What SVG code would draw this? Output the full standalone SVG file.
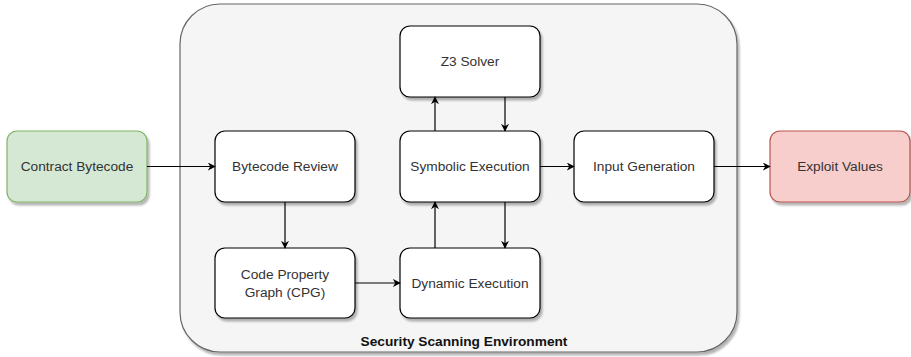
<svg xmlns="http://www.w3.org/2000/svg" width="911" height="357" viewBox="0 0 911 357">
  <style>
    .box { fill: #ffffff; stroke: #000000; stroke-width: 1.2; }
    .green { fill: #d5e8d4; stroke: #82b366; }
    .red { fill: #f8cecc; stroke: #b85450; }
    .env { fill: #f5f5f5; stroke: #666666; stroke-width: 1.2; }
    .lbl { font-family: "Liberation Sans", Arial, sans-serif; font-size: 13.7px; fill: #333333; text-anchor: middle; dominant-baseline: central; }
    .title { font-weight: bold; fill: #111111; }
    .edge { fill: none; stroke: #000000; stroke-width: 1.2; }
  </style>
  <defs>
    <filter id="shadow" x="-10%" y="-10%" width="130%" height="140%">
      <feGaussianBlur in="SourceAlpha" stdDeviation="1"/>
      <feOffset dx="2" dy="3" result="off"/>
      <feComponentTransfer><feFuncA type="linear" slope="0.3"/></feComponentTransfer>
      <feMerge><feMergeNode/><feMergeNode in="SourceGraphic"/></feMerge>
    </filter>
    <marker id="arrow" viewBox="0 0 10 10" refX="9" refY="5" markerWidth="8" markerHeight="8" markerUnits="userSpaceOnUse" orient="auto">
      <path d="M0,0 L10,5 L0,10 L3,5 Z" fill="#000000"/>
    </marker>
  </defs>

  <!-- scanning environment container -->
  <g id="environment">
    <rect class="env" x="180" y="4" width="557" height="348" rx="40" ry="40" filter="url(#shadow)"/>
    <text class="lbl title" x="464" y="341">Security Scanning Environment</text>
  </g>

  <g id="contract-bytecode">
    <rect class="box green" x="7" y="131" width="140" height="71" rx="10" filter="url(#shadow)"/>
    <text class="lbl" x="77" y="166.5">Contract Bytecode</text>
  </g>
  <g id="bytecode-review">
    <rect class="box" x="215" y="131" width="140" height="71" rx="10" filter="url(#shadow)"/>
    <text class="lbl" x="285" y="166.5">Bytecode Review</text>
  </g>
  <g id="z3-solver">
    <rect class="box" x="400" y="26" width="140" height="71" rx="10" filter="url(#shadow)"/>
    <text class="lbl" x="470" y="61.5">Z3 Solver</text>
  </g>
  <g id="symbolic-execution">
    <rect class="box" x="400" y="131" width="140" height="71" rx="10" filter="url(#shadow)"/>
    <text class="lbl" x="470" y="166.5">Symbolic Execution</text>
  </g>
  <g id="input-generation">
    <rect class="box" x="574" y="131" width="140" height="71" rx="10" filter="url(#shadow)"/>
    <text class="lbl" x="644" y="166.5">Input Generation</text>
  </g>
  <g id="exploit-values">
    <rect class="box red" x="770" y="131" width="140" height="71" rx="10" filter="url(#shadow)"/>
    <text class="lbl" x="840" y="166.5">Exploit Values</text>
  </g>
  <g id="code-property-graph">
    <rect class="box" x="215" y="248" width="140" height="70" rx="10" filter="url(#shadow)"/>
    <text class="lbl" x="285" y="274.5">Code Property</text>
    <text class="lbl" x="285" y="292">Graph (CPG)</text>
  </g>
  <g id="dynamic-execution">
    <rect class="box" x="400" y="248" width="140" height="70" rx="10" filter="url(#shadow)"/>
    <text class="lbl" x="470" y="283">Dynamic Execution</text>
  </g>

  <!-- connectors -->
  <g id="connectors">
    <path class="edge" d="M147,166.5 L215,166.5" marker-end="url(#arrow)"/>
    <path class="edge" d="M285,202 L285,248" marker-end="url(#arrow)"/>
    <path class="edge" d="M355,283 L400,283" marker-end="url(#arrow)"/>
    <path class="edge" d="M435,248 L435,202" marker-end="url(#arrow)"/>
    <path class="edge" d="M505,202 L505,248" marker-end="url(#arrow)"/>
    <path class="edge" d="M435,131 L435,97" marker-end="url(#arrow)"/>
    <path class="edge" d="M505,97 L505,131" marker-end="url(#arrow)"/>
    <path class="edge" d="M540,166.5 L574,166.5" marker-end="url(#arrow)"/>
    <path class="edge" d="M714,166.5 L770,166.5" marker-end="url(#arrow)"/>
  </g>
</svg>
